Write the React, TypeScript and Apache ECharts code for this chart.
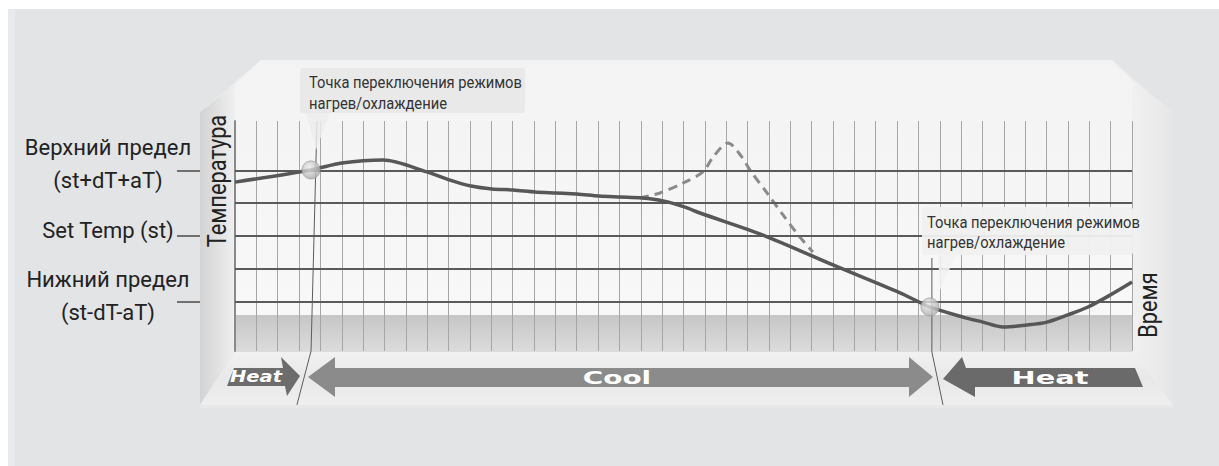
import React, { useEffect, useRef } from "react";
import * as echarts from "echarts";

// ---- data ----
const timeMin = 0;
const timeMax = 42;
const tempMin = -3.5;
const tempMax = 3.5;
const levelValues = [2, 1, 0, -1, -2];
const labeledLevels = [2, 0, -2];
const labelAnchors = [2.18, 0.18, -1.82];
const levelLabels = ["Верхний предел\n(st+dT+aT)", "Set Temp (st)", "Нижний предел\n(st-dT-aT)"];

const mainX = [0, 3.56, 5.01, 6.93, 8.99, 10.07, 11.05, 12.03, 13.02, 14.05, 15.03, 16.01, 17.04, 18.03, 19.06, 20.04, 21.07, 21.77, 24.72, 28.0, 31.14, 32.54, 34.09, 35.02, 35.96, 37.08, 38.02, 39.0, 39.94, 40.97, 42.0];
const mainY = [1.64, 2.01, 2.22, 2.31, 1.95, 1.7, 1.52, 1.43, 1.4, 1.34, 1.31, 1.28, 1.22, 1.19, 1.16, 1.07, 0.88, 0.7, 0.03, -0.88, -1.73, -2.16, -2.47, -2.62, -2.77, -2.71, -2.62, -2.4, -2.16, -1.8, -1.4];

const dashX = [18.96, 19.9, 20.98, 21.91, 22.38, 23.08, 23.74, 24.11, 24.91, 25.66, 26.45, 27.06];
const dashY = [1.16, 1.31, 1.61, 1.95, 2.4, 2.83, 2.4, 2.01, 1.31, 0.64, -0.03, -0.49];

const switchX = [3.56, 32.54];
const switchY = [2.01, -2.16];

const guide1X = [3.84, 3.56, 2.9];
const guide1Y = [3.5, -3.5, -5.14];
const guide2X = [32.63, 32.63, 33.15];
const guide2Y = [-0.67, -3.53, -5.14];

const yTitle = "Температура";
const xTitle = "Время";
const calloutText = "Точка переключения режимов\nнагрев/охлаждение";
const modeLabels = ["Heat", "Cool", "Heat"];

const zip = (xs: number[], ys: number[]) => xs.map((x, i) => [x, ys[i]]);

const NARROW = 'Roboto, "Liberation Sans Narrow", sans-serif';
const BOLD = '"DejaVu Sans", Verdana, sans-serif';

export default function App() {
  const ref = useRef<HTMLDivElement>(null);
  useEffect(() => {
    document.body.style.margin = "0";
    document.documentElement.style.overflow = "hidden";
    const chart = echarts.init(ref.current!, undefined, { renderer: "svg" });
    const lg = (x0: number, y0: number, x1: number, y1: number, stops: [number, string][]) =>
      new echarts.graphic.LinearGradient(x0, y0, x1, y1, stops.map(([offset, color]) => ({ offset, color })));

    const bgGraphics: any[] = [
      { type: "rect", z: -20, silent: true, shape: { x: 8, y: 9, width: 1211, height: 457 }, style: { fill: "#e3e4e6" } },
      { type: "rect", z: -19, silent: true, shape: { x: 8, y: 9, width: 7, height: 457 }, style: { fill: "#e9eaec" } },
      {
        type: "polygon", z: -18, silent: true,
        shape: { points: [[200, 112], [261, 60], [1112, 60], [1173, 113], [1173, 408], [200, 408]] },
        style: { fill: lg(0, 0, 0, 1, [[0, "#ececec"], [1, "#e8e8e8"]]) },
      },
      {
        type: "polygon", z: -17, silent: true,
        shape: { points: [[261, 60], [1112, 60], [1132, 80], [1132, 315], [235, 315], [235, 84]] },
        style: { fill: lg(0, 0, 0, 1, [[0, "#f3f3f3"], [1, "#f8f8f8"]]) },
      },
      {
        type: "polygon", z: -16, silent: true,
        shape: { points: [[200, 112], [235, 84], [235, 352], [200, 405]] },
        style: { fill: lg(0, 0, 1, 0, [[0, "#d3d3d3"], [0.6, "#e4e4e4"], [1, "#f0f0f0"]]) },
      },
      {
        type: "polygon", z: -16, silent: true,
        shape: { points: [[1132, 80], [1173, 113], [1173, 405], [1132, 352]] },
        style: { fill: lg(0, 0, 1, 0, [[0, "#f1f1f1"], [1, "#e6e6e6"]]) },
      },
      {
        type: "rect", z: -16, silent: true,
        shape: { x: 235, y: 315, width: 897, height: 37 },
        style: { fill: lg(0, 0, 0, 1, [[0, "#c6c6c6"], [1, "#dcdcdc"]]) },
      },
      {
        type: "polygon", z: -16, silent: true,
        shape: { points: [[235, 352], [1132, 352], [1173, 405], [200, 405]] },
        style: { fill: lg(0, 0, 0, 1, [[0, "#f1f1f1"], [0.5, "#e8e8e8"], [1, "#efefef"]]) },
      },
    ];

    const arrows: any[] = [
      {
        type: "polygon", z: 20, silent: true,
        shape: { points: [[227, 386], [234, 368], [283, 368], [281, 357], [300, 376], [287, 396], [285, 386]] },
        style: { fill: "#6c6c6c" },
      },
      {
        type: "text", z: 21, silent: true, x: 256, y: 377, scaleX: 1.3,
        style: { text: modeLabels[0], fill: "#ffffff", fontSize: 15, fontWeight: "bold", fontStyle: "italic", fontFamily: BOLD, align: "center", verticalAlign: "middle" },
      },
      {
        type: "polygon", z: 20, silent: true,
        shape: { points: [[308, 377], [335, 357], [335, 368], [909, 368], [909, 357], [933, 377], [909, 397], [909, 387], [335, 387], [335, 397]] },
        style: { fill: "#8b8b8b" },
      },
      {
        type: "text", z: 21, silent: true, x: 617, y: 378, scaleX: 1.55,
        style: { text: modeLabels[1], fill: "#ffffff", fontSize: 18, fontWeight: "bold", fontFamily: BOLD, align: "center", verticalAlign: "middle" },
      },
      {
        type: "polygon", z: 20, silent: true,
        shape: { points: [[943, 379], [962, 357], [966, 368], [1135, 368], [1143, 387], [975, 387], [975, 397]] },
        style: { fill: "#6a6a6a" },
      },
      {
        type: "text", z: 21, silent: true, x: 1050, y: 378, scaleX: 1.6,
        style: { text: modeLabels[2], fill: "#ffffff", fontSize: 18, fontWeight: "bold", fontFamily: BOLD, align: "center", verticalAlign: "middle" },
      },
    ];

    const titles: any[] = [
      {
        type: "text", z: 15, silent: true, x: 217, y: 181, rotation: Math.PI / 2, scaleX: 0.87,
        style: { text: yTitle, fill: "#222", fontSize: 25, fontFamily: NARROW, align: "center", verticalAlign: "middle" },
      },
      {
        type: "text", z: 15, silent: true, x: 1148, y: 305, rotation: Math.PI / 2, scaleX: 0.87,
        style: { text: xTitle, fill: "#222", fontSize: 25, fontFamily: NARROW, align: "center", verticalAlign: "middle" },
      },
    ];

    const callouts: any[] = [
      { type: "polygon", z: 30, silent: true, shape: { points: [[306, 112], [330, 112], [316, 150]] }, style: { fill: "rgba(236,236,236,0.85)" } },
      { type: "rect", z: 30, silent: true, shape: { x: 300, y: 68, width: 225, height: 45, r: 3 }, style: { fill: "#e9e9e9" } },
      {
        type: "text", z: 31, silent: true, x: 309, y: 72, scaleX: 0.92,
        style: { text: calloutText, fill: "#333", fontSize: 16, lineHeight: 21, fontFamily: NARROW, align: "left", verticalAlign: "top" },
      },
      { type: "polygon", z: 30, silent: true, shape: { points: [[938, 255], [956, 255], [940, 290]] }, style: { fill: "rgba(242,242,242,0.9)" } },
      { type: "rect", z: 30, silent: true, shape: { x: 922, y: 207, width: 211, height: 48, r: 3 }, style: { fill: "rgba(240,240,240,0.95)" } },
      {
        type: "text", z: 31, silent: true, x: 927, y: 213, scaleX: 0.92,
        style: { text: calloutText, fill: "#333", fontSize: 16, lineHeight: 20, fontFamily: NARROW, align: "left", verticalAlign: "top" },
      },
    ];

    const option: any = {
      animation: false,
      backgroundColor: "#ffffff",
      grid: { left: 235, top: 121, width: 897, height: 230, outerBoundsMode: "none", containLabel: false },
      xAxis: {
        type: "value", min: timeMin, max: timeMax, interval: 1,
        axisLine: { show: true, lineStyle: { color: "#8d8d8d", width: 1.5 } },
        axisTick: { show: false }, axisLabel: { show: false },
        splitLine: { show: true, lineStyle: { color: "#a6a6a6", width: 1 } },
      },
      yAxis: [
        {
          type: "value", min: tempMin, max: tempMax,
          axisLine: { show: true, lineStyle: { color: "#8a8a8a", width: 2 } },
          axisTick: { show: false }, axisLabel: { show: false }, splitLine: { show: false },
        },
        {
          type: "value", min: tempMin, max: tempMax, position: "left", offset: 35,
          axisLine: { show: false },
          axisTick: { show: true, customValues: labeledLevels, length: 23, lineStyle: { color: "#4a4a4a", width: 1.5 } },
          axisLabel: {
            show: true, customValues: labelAnchors, margin: 92, align: "center", hideOverlap: false,
            fontSize: 22, lineHeight: 33, fontFamily: NARROW, color: "#222",
            formatter: (v: number) => levelLabels[labeledLevels.indexOf(Math.round(v))] ?? "",
          },
          splitLine: { show: false },
        },
      ],
      series: [
        {
          name: "guides1", type: "line", data: zip(guide1X, guide1Y), clip: false, silent: true,
          showSymbol: false, symbol: "none", z: 3,
          lineStyle: { color: "#5c5c5c", width: 1 },
          markLine: {
            silent: true, symbol: ["none", "none"], label: { show: false },
            lineStyle: { color: "#5a5a5a", width: 2, type: "solid" },
            data: levelValues.map((v) => ({ yAxis: v })),
          },
        },
        {
          name: "guides2", type: "line", data: zip(guide2X, guide2Y), clip: false, silent: true,
          showSymbol: false, symbol: "none", z: 3,
          lineStyle: { color: "#5c5c5c", width: 1 },
        },
        {
          name: "dashed", type: "line", data: zip(dashX, dashY), smooth: 0.3, showSymbol: false, symbol: "none", z: 4,
          lineStyle: { color: "#8a8a8a", width: 3, type: [9, 6] },
        },
        {
          name: "temperature", type: "line", data: zip(mainX, mainY), smooth: 0.3, showSymbol: false, symbol: "none", z: 5,
          lineStyle: { color: "#575757", width: 3.5 },
        },
        {
          name: "switch", type: "scatter", data: zip(switchX, switchY), symbolSize: 18, z: 6,
          itemStyle: {
            color: new echarts.graphic.RadialGradient(0.4, 0.35, 0.7, [
              { offset: 0, color: "#ececec" },
              { offset: 1, color: "#a9a9a9" },
            ]),
            borderColor: "#a0a0a0", borderWidth: 1,
          },
        },
      ],
      graphic: [...bgGraphics, ...titles, ...arrows, ...callouts],
    };
    chart.setOption(option);
    return () => chart.dispose();
  }, []);
  return <div ref={ref} style={{ width: 1219, height: 466 }} />;
}
